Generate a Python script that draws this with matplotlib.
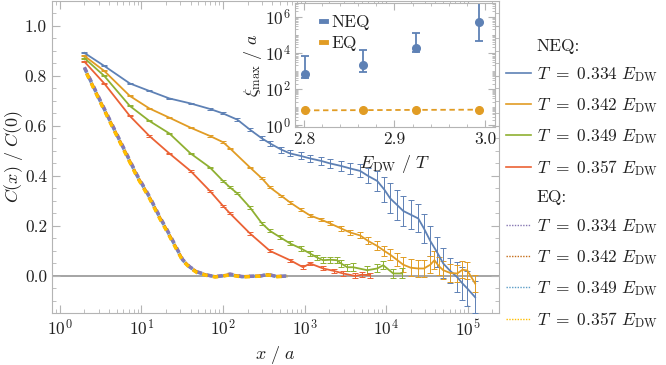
import matplotlib

matplotlib.use("Agg")
import matplotlib.pyplot as plt
from matplotlib.lines import Line2D
from matplotlib.ticker import FormatStrFormatter, LogLocator, MultipleLocator, NullFormatter

plt.rcParams["font.family"] = "cmr10"
plt.rcParams["mathtext.fontset"] = "cm"
plt.rcParams["axes.formatter.use_mathtext"] = True

# ---- data ----
temps = ["0.334", "0.342", "0.349", "0.357"]
neq_colors = ["#5E81B5", "#E19C24", "#8FB032", "#EB6235"]
eq_colors = ["#8778B3", "#C56E1A", "#5D9EC7", "#FFBF00"]

x_neq_334 = [2, 3.5, 7.2, 12.5, 22, 40, 69, 100, 150, 214, 300, 377, 520, 664, 900, 1167,
             1600, 2055, 2800, 3615, 4800, 6000, 7760, 9500, 11200, 13500, 16170, 20000,
             24700, 29000, 34700, 42000, 50000, 61000, 74300, 86000, 98600, 123000]
y_neq_334 = [0.892, 0.84, 0.77, 0.74, 0.71, 0.69, 0.668, 0.65, 0.625, 0.585, 0.55, 0.53,
             0.505, 0.49, 0.48, 0.47, 0.46, 0.45, 0.44, 0.43, 0.42, 0.40, 0.38, 0.345, 0.31,
             0.285, 0.26, 0.245, 0.23, 0.19, 0.14, 0.095, 0.05, 0.02, -0.005, -0.03, -0.05,
             -0.085]
e_neq_334 = [0.002, 0.002, 0.002, 0.002, 0.003, 0.003, 0.003, 0.004, 0.005, 0.006, 0.008,
             0.01, 0.012, 0.012, 0.014, 0.015, 0.016, 0.018, 0.02, 0.022, 0.026, 0.03, 0.04,
             0.05, 0.06, 0.06, 0.06, 0.058, 0.056, 0.058, 0.06, 0.06, 0.06, 0.05, 0.06, 0.065,
             0.07, 0.065]

x_neq_342 = [2, 3.5, 7.2, 12.5, 22, 40, 69, 100, 122, 214, 300, 377, 520, 664, 900, 1167,
             1600, 2055, 2800, 3615, 4800, 6000, 7760, 9500, 11200, 13500, 16170, 20000,
             24700, 29000, 34700, 39000, 44000, 50000, 61000, 74300, 86000, 98600, 123000]
y_neq_342 = [0.88, 0.82, 0.72, 0.67, 0.633, 0.593, 0.56, 0.535, 0.51, 0.434, 0.39, 0.354,
             0.32, 0.294, 0.265, 0.242, 0.225, 0.21, 0.19, 0.174, 0.162, 0.14, 0.12, 0.10,
             0.085, 0.065, 0.045, 0.033, 0.03, 0.03, 0.045, 0.063, 0.04, 0.023, 0.012, 0.01,
             0.025, 0.022, -0.03]
e_neq_342 = [0.002, 0.002, 0.002, 0.002, 0.002, 0.002, 0.003, 0.003, 0.003, 0.003, 0.004,
             0.004, 0.005, 0.005, 0.006, 0.006, 0.007, 0.008, 0.009, 0.01, 0.012, 0.014,
             0.018, 0.02, 0.022, 0.026, 0.03, 0.034, 0.035, 0.035, 0.035, 0.035, 0.035,
             0.035, 0.035, 0.035, 0.035, 0.035, 0.035]

x_neq_349 = [2, 3.5, 7.2, 12.5, 22, 40, 69, 100, 122, 150, 214, 300, 377, 500, 664, 900,
             1167, 1400, 1686, 2055, 2500, 2800, 3320, 3935, 5850, 7760, 9190, 12200, 15700]
y_neq_349 = [0.871, 0.80, 0.68, 0.62, 0.57, 0.49, 0.434, 0.38, 0.354, 0.33, 0.274, 0.21,
             0.18, 0.155, 0.13, 0.11, 0.09, 0.075, 0.063, 0.065, 0.063, 0.05, 0.035, 0.035,
             0.023, 0.03, 0.043, 0.01, 0.01]
e_neq_349 = [0.002, 0.002, 0.002, 0.002, 0.002, 0.003, 0.003, 0.003, 0.004, 0.004, 0.005,
             0.006, 0.006, 0.007, 0.008, 0.009, 0.01, 0.01, 0.011, 0.012, 0.012, 0.013,
             0.014, 0.015, 0.015, 0.016, 0.017, 0.018, 0.02]

x_neq_357 = [2, 3.5, 7.2, 12.5, 22, 40, 69, 100, 122, 214, 377, 664, 957, 1167, 1686, 2300,
             2970, 4170, 5000, 6360]
y_neq_357 = [0.857, 0.77, 0.64, 0.56, 0.49, 0.42, 0.34, 0.28, 0.25, 0.17, 0.10, 0.063, 0.035,
             0.05, 0.03, 0.02, 0.01, 0.0, 0.005, 0.003]
e_neq_357 = [0.002, 0.002, 0.002, 0.003, 0.003, 0.003, 0.004, 0.004, 0.004, 0.005, 0.006,
             0.006, 0.007, 0.007, 0.008, 0.008, 0.009, 0.01, 0.01, 0.01]

x_eq = [2, 3.1, 4.7, 8.8, 12.7, 16.9, 20.6, 25.8, 32, 39, 48, 63, 80, 97, 122, 170, 286,
        355, 460, 610]
y_eq_334 = [0.835, 0.705, 0.585, 0.405, 0.315, 0.235, 0.185, 0.125, 0.066, 0.037, 0.017,
            0.004, -0.002, 0.001, 0.008, -0.002, 0.0, 0.006, -0.002, 0.0]
y_eq_342 = [0.83, 0.70, 0.58, 0.40, 0.31, 0.23, 0.18, 0.12, 0.063, 0.035, 0.015, 0.003,
            -0.003, 0.0, 0.005, -0.003, 0.0, 0.005, -0.002, 0.0]
y_eq_349 = [0.832, 0.702, 0.582, 0.402, 0.312, 0.232, 0.182, 0.122, 0.064, 0.036, 0.016,
            0.004, -0.003, 0.0, 0.006, -0.003, 0.0, 0.006, -0.003, 0.0]
y_eq_357 = [0.828, 0.697, 0.577, 0.397, 0.307, 0.227, 0.177, 0.117, 0.061, 0.033, 0.013,
            0.002, -0.004, -0.001, 0.004, -0.004, -0.001, 0.004, -0.003, -0.001]

# inset: xi_max vs E_DW / T
inv_t = [2.801, 2.865, 2.924, 2.994]
xi_neq = [700, 2000, 18000, 5.0e5]
xi_neq_lo = [420, 900, 11000, 45000]
xi_neq_hi = [6500, 14000, 1.2e5, 2.0e7]
xi_eq = [6.6, 6.8, 7.0, 7.2]

neq = [(x_neq_334, y_neq_334, e_neq_334), (x_neq_342, y_neq_342, e_neq_342),
       (x_neq_349, y_neq_349, e_neq_349), (x_neq_357, y_neq_357, e_neq_357)]
eq = [y_eq_334, y_eq_342, y_eq_349, y_eq_357]

frame = "#b4b4b4"
txt = "#222222"
fs = 12.5   # tick labels
lfs = 13    # axis labels

fig = plt.figure(figsize=(6.66, 3.65), dpi=100)
ax = fig.add_axes([0.078, 0.1425, 0.671, 0.855])

ax.axhline(0, color="#8c8c8c", lw=1.1, zorder=1)
for (xs, ys, es), c in zip(neq, neq_colors):
    ax.errorbar(xs, ys, yerr=es, color=c, lw=1.3, elinewidth=0.7, capsize=2.5,
                capthick=0.7, zorder=3)
# EQ curves lie on top of each other: two dash phases so purple and yellow alternate
eq_draw = [(2, 0.0), (0, 0.0), (1, 1.6), (3, 1.6)]   # (series index, dash offset)
for i, off in eq_draw:
    ax.plot(x_eq, eq[i], color=eq_colors[i], lw=2.4, ls=(off, (1.6, 1.6)), zorder=2)

ax.set_xscale("log")
ax.set_xlim(0.8, 2.4e5)
ax.set_ylim(-0.148, 1.1)
ax.yaxis.set_major_locator(MultipleLocator(0.2))
ax.yaxis.set_minor_locator(MultipleLocator(0.05))
ax.yaxis.set_major_formatter(FormatStrFormatter("%.1f"))
ax.xaxis.set_major_locator(LogLocator(base=10, numticks=10))
ax.xaxis.set_minor_locator(LogLocator(base=10, subs=range(2, 10), numticks=10))
ax.xaxis.set_minor_formatter(NullFormatter())
ax.set_xlabel(r"$x\ /\ a$", fontsize=lfs, color=txt)
ax.set_ylabel(r"$C(x)\ /\ C(0)$", fontsize=lfs, color=txt)
ax.xaxis.set_label_coords(0.5, -0.10)
ax.yaxis.set_label_coords(-0.06, 0.5)

for s in ax.spines.values():
    s.set_color(frame)
ax.tick_params(which="both", direction="in", top=True, right=True, color=frame,
               labelcolor=txt, labelsize=fs)
ax.tick_params(which="major", length=6, width=0.8)
ax.tick_params(which="minor", length=3, width=0.6)

# legend on the right
blank = Line2D([], [], color="none")
handles = [blank] + [Line2D([], [], color=c, lw=1.2) for c in neq_colors]
handles += [blank] + [Line2D([], [], color=c, lw=1.0, ls=(0, (1, 1))) for c in eq_colors]
labels = ["NEQ:"] + [r"$T\ =\ %s\ E_{\mathrm{DW}}$" % t for t in temps]
labels += ["EQ:"] + [r"$T\ =\ %s\ E_{\mathrm{DW}}$" % t for t in temps]
leg = fig.legend(handles, labels, loc="upper left", bbox_to_anchor=(0.760, 0.895),
                 frameon=False, fontsize=fs, handlelength=1.45, handletextpad=0.3,
                 labelspacing=0.685, borderpad=0, borderaxespad=0)
for t in leg.get_texts():
    t.set_color(txt)

# inset
ins = fig.add_axes([0.443, 0.652, 0.300, 0.340])
ins.set_facecolor("white")
ins.errorbar(inv_t, xi_neq,
             yerr=[[v - lo for v, lo in zip(xi_neq, xi_neq_lo)],
                   [hi - v for v, hi in zip(xi_neq, xi_neq_hi)]],
             fmt="o", color=neq_colors[0], ms=5.5, elinewidth=1.3, capsize=3,
             capthick=1.3, label="NEQ")
ins.plot(inv_t, xi_eq, color=neq_colors[1], ls=(0, (3, 2)), lw=1.3, marker="o", ms=5.5,
         label="EQ")
ins.set_yscale("log")
ins.set_xlim(2.79, 3.011)
ins.set_ylim(10 ** -0.1, 10 ** 6.75)
ins.yaxis.set_major_locator(LogLocator(base=100, numticks=10))
ins.yaxis.set_minor_locator(LogLocator(base=10, subs=range(1, 10), numticks=20))
ins.yaxis.set_minor_formatter(NullFormatter())
ins.xaxis.set_major_locator(MultipleLocator(0.1))
ins.xaxis.set_minor_locator(MultipleLocator(0.02))
ins.xaxis.set_major_formatter(FormatStrFormatter("%.1f"))
ins.set_xlabel(r"$E_{\mathrm{DW}}\ /\ T$", fontsize=lfs, color=txt, labelpad=5)
ins.set_ylabel(r"$\xi_{\max}\ /\ a$", fontsize=lfs, color=txt)
ins.yaxis.set_label_coords(-0.155, 0.5)
for s in ins.spines.values():
    s.set_color(frame)
ins.tick_params(which="both", direction="in", top=True, right=True, color=frame,
                labelcolor=txt, labelsize=fs, pad=3)
ins.tick_params(which="major", length=5, width=0.8)
ins.tick_params(which="minor", length=2.5, width=0.6)
ins_handles = [Line2D([], [], color=neq_colors[0], lw=3.5),
               Line2D([], [], color=neq_colors[1], lw=3.5)]
ileg = ins.legend(ins_handles, ["NEQ", "EQ"], loc="upper left", frameon=False,
                  fontsize=fs, handlelength=0.3, handletextpad=0.3, labelspacing=0.3,
                  borderaxespad=0.3, bbox_to_anchor=(0.07, 1.0))
for t in ileg.get_texts():
    t.set_color(txt)

fig.savefig("out.png", dpi=100)
